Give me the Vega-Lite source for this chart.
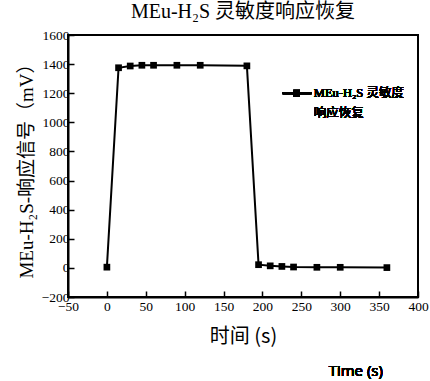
{
  "$schema": "https://vega.github.io/schema/vega-lite/v6.json",
  "autosize": "none",
  "width": 350,
  "height": 262,
  "padding": {"left": 68, "top": 35, "right": 12, "bottom": 84},
  "background": "white",
  "title": {
    "text": "MEu-H₂S 灵敏度响应恢复",
    "font": "Liberation Serif, Noto Sans CJK SC",
    "fontSize": 20,
    "fontWeight": "normal",
    "color": "black",
    "anchor": "middle",
    "offset": 6
  },
  "config": {
    "view": {"stroke": "black", "strokeWidth": 2},
    "axis": {
      "grid": false,
      "labelOverlap": false
    }
  },
  "data": {
    "values": [
      {"t": 0, "v": 5},
      {"t": 15, "v": 1375},
      {"t": 30, "v": 1387},
      {"t": 45, "v": 1392},
      {"t": 60, "v": 1392},
      {"t": 90, "v": 1392},
      {"t": 120, "v": 1392},
      {"t": 180, "v": 1388},
      {"t": 195, "v": 22},
      {"t": 210, "v": 14},
      {"t": 225, "v": 10},
      {"t": 240, "v": 6},
      {"t": 270, "v": 4},
      {"t": 300, "v": 4},
      {"t": 360, "v": 2}
    ]
  },
  "encoding": {
    "x": {
      "field": "t", "type": "quantitative",
      "scale": {"domain": [-50, 400], "nice": false},
      "axis": {"values": [-50, 0, 50, 100, 150, 200, 250, 300, 350, 400], "format": "d", "labelOverlap": false, "labelFlush": false, "grid": false,
        "domainColor": "black", "domainWidth": 2, "tickColor": "black", "tickWidth": 1.5, "tickSize": -6,
        "labelFont": "Liberation Serif", "labelFontSize": 13.5, "labelColor": "black", "labelPadding": 8,
        "title": "时间 (s)", "titleFont": "Noto Sans CJK SC", "titleFontSize": 20, "titleFontWeight": "normal", "titleColor": "black", "titlePadding": 14}
    },
    "y": {
      "field": "v", "type": "quantitative",
      "scale": {"domain": [-200, 1600], "nice": false},
      "axis": {"values": [-200, 0, 200, 400, 600, 800, 1000, 1200, 1400, 1600], "format": "d", "labelOverlap": false, "labelFlush": false, "grid": false,
        "domainColor": "black", "domainWidth": 2, "tickColor": "black", "tickWidth": 1.5, "tickSize": -6,
        "labelFont": "Liberation Serif", "labelFontSize": 13.5, "labelColor": "black", "labelPadding": 5,
        "title": "MEu-H₂S-响应信号（mV）", "titleFont": "Liberation Serif, Noto Sans CJK SC", "titleFontSize": 19, "titleFontWeight": "normal", "titleColor": "black", "titlePadding": 5}
    }
  },
  "layer": [
    {
      "mark": {"type": "line", "color": "black", "strokeWidth": 2}
    },
    {
      "mark": {"type": "point", "shape": "square", "filled": true, "color": "black", "size": 45, "opacity": 1}
    },
    {
      "mark": {"type": "rule", "color": "black", "strokeWidth": 2},
      "encoding": {
        "x": {"datum": 226},
        "x2": {"datum": 263},
        "y": {"datum": 1200}
      }
    },
    {
      "mark": {"type": "point", "shape": "square", "filled": true, "color": "black", "size": 45, "opacity": 1},
      "encoding": {
        "x": {"datum": 244},
        "y": {"datum": 1200}
      }
    },
    {
      "mark": {"type": "text", "align": "left", "baseline": "middle", "font": "Liberation Serif, Noto Sans CJK SC", "fontSize": 12.5, "fontWeight": "normal", "fill": "black", "text": "MEu-H₂S 灵敏度"},
      "encoding": {
        "x": {"datum": 266},
        "y": {"datum": 1200}
      }
    },
    {
      "mark": {"type": "text", "align": "left", "baseline": "middle", "font": "Liberation Serif, Noto Sans CJK SC", "fontSize": 12.5, "fontWeight": "normal", "fill": "black", "text": "响应恢复"},
      "encoding": {
        "x": {"datum": 266},
        "y": {"datum": 1064}
      }
    },
    {
      "mark": {"type": "text", "align": "center", "baseline": "middle", "font": "Open Sans", "fontSize": 15, "fontWeight": "normal", "fill": "black", "text": "Time (s)", "clip": false},
      "encoding": {
        "x": {"datum": 320},
        "y": {"datum": -705}
      }
    }
  ]
}
